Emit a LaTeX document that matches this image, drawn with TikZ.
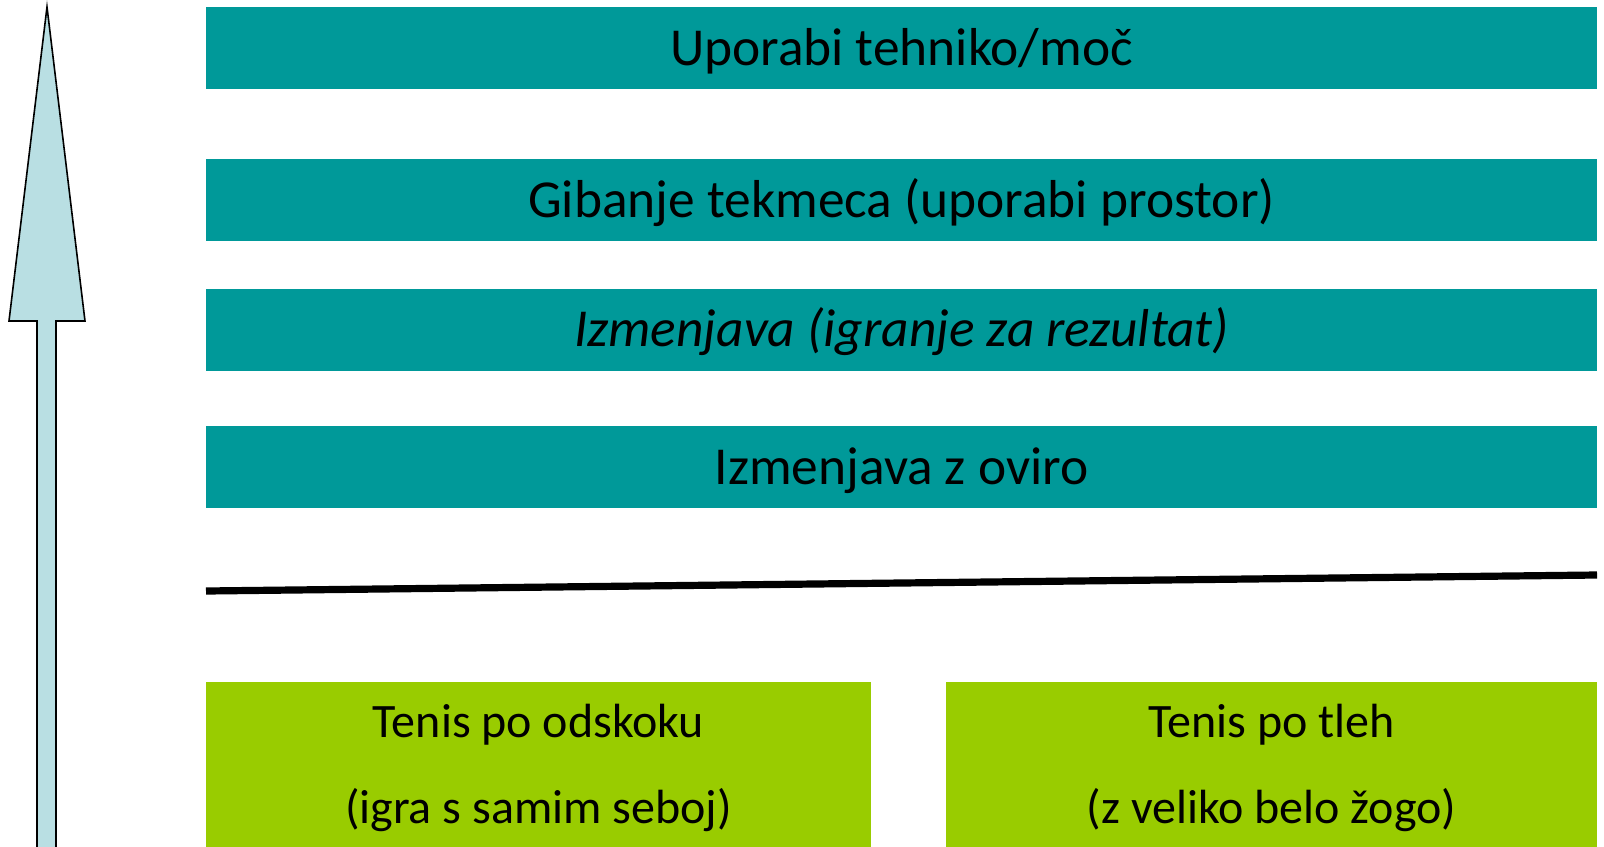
\documentclass[tikz,border=0pt]{standalone}
\usepackage{fontspec}
\setmainfont{Carlito}
\usepackage{tikz}
\usetikzlibrary{positioning}
\definecolor{tirkiz}{HTML}{009999}
\definecolor{zelena}{HTML}{99CC00}
\definecolor{svetlomodra}{HTML}{B9DFE3}
\tikzset{
  raven/.style={fill=tirkiz, inner sep=0pt, minimum width=695.5pt, minimum height=41pt,
    text height=20pt, text depth=3pt, font=\fontsize{26.7}{30}\selectfont},
  igra/.style={fill=zelena, inner sep=0pt, minimum height=86pt, align=center,
    font=\fontsize{24}{43}\selectfont}
}
\begin{document}
\begin{tikzpicture}[x=0.5pt,y=-0.5pt]
  \useasboundingbox (0,0) rectangle (1604,846);
  % puscica na levi
  \draw[fill=svetlomodra, line width=0.8pt, line join=miter]
    (47,7) -- (85,321) -- (56,321) -- (56,850) -- (37,850) -- (37,321) -- (9,321) -- cycle;
  % stopnje
  \node[raven] (moc)     at (901.5,48)  {Uporabi tehniko/moč};
  \node[raven] (gibanje) at (901.5,200) {Gibanje tekmeca (uporabi prostor)};
  \node[raven] (rezultat) at (901.5,329.5) {\itshape Izmenjava (igranje za rezultat)};
  \node[raven] (ovira)   at (901.5,467) {Izmenjava z oviro};
  % locnica
  \coordinate (meja1) at (206,591);
  \coordinate (meja2) at (1597,575);
  \draw[line width=3.6pt] (meja1) -- (meja2);
  % osnovne igre (spodnji rob sega cez sliko)
  \node[igra, minimum width=332.5pt] (odskok) at (538.5,768) {Tenis po odskoku\\(igra s samim seboj)};
  \node[igra, minimum width=325.5pt] (tla)    at (1271.5,768) {Tenis po tleh\\(z veliko belo žogo)};
\end{tikzpicture}
\end{document}
